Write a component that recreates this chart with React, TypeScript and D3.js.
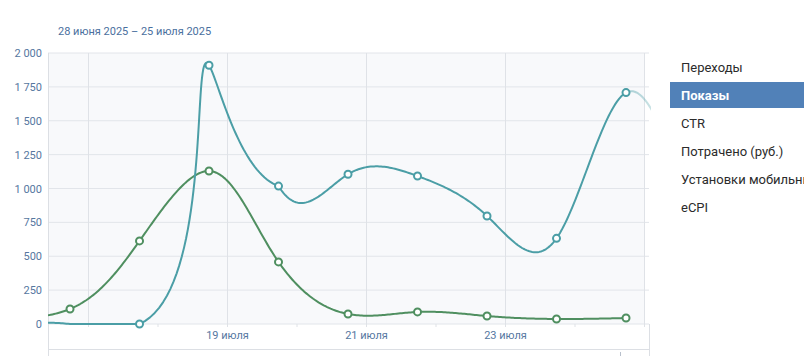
import React from "react";
import * as d3 from "d3";

// ---- data ----
const TITLE = "28 июня 2025 – 25 июля 2025";
const Y_TICKS = [0, 250, 500, 750, 1000, 1250, 1500, 1750, 2000];
const X_GRID_DAYS = [17, 19, 21, 23, 25];
const X_MINOR_DAYS = [18, 20, 22, 24];
const X_LABEL_DAYS = [19, 21, 23];
const X_LABEL_MONTH = "июля";

// point days (July)
const GREEN_DAYS = [15, 16, 17, 18, 19, 20, 21, 22, 23, 24];
const GREEN_VALUES = [30, 111, 613, 1129, 458, 74, 89, 59, 37, 44];
const TEAL_DAYS = [15, 16, 17, 18, 19, 20, 21, 22, 23, 24, 25];
const TEAL_VALUES = [0, 0, 0, 1910, 1018, 1105, 1092, 797, 632, 1708, 700];

const LEGEND_ITEMS = ["Переходы", "Показы", "CTR", "Потрачено (руб.)", "Установки мобильных приложений", "eCPI"];
const LEGEND_SELECTED = 1;

// ---- layout ----
const W = 804, H = 356;
const PL = 48, PR = 649, PT = 53, PB = 324;
const POINT_SHIFT = 0.734;
const CURVE_SPLIT = 4;
const TEAL = "#4b9ea6";
const GREEN = "#4f8f60";
const AXIS_TEXT = "#56779f";
const FONT = "Roboto, 'Open Sans', sans-serif";

const locale = d3.formatLocale({ decimal: ",", thousands: "\u00a0", grouping: [3], currency: ["", ""] });
const fmt = locale.format(",d");

function solveNatural(h: number[], v: number[]): number[] {
  const n = v.length - 1;
  const M = new Array(n + 1).fill(0);
  if (n < 2) return M;
  const a: number[] = [], b: number[] = [], c: number[] = [], r: number[] = [];
  for (let i = 1; i < n; i++) {
    a.push(h[i - 1]);
    b.push(2 * (h[i - 1] + h[i]));
    c.push(h[i]);
    r.push(6 * ((v[i + 1] - v[i]) / h[i] - (v[i] - v[i - 1]) / h[i - 1]));
  }
  const m = b.length;
  for (let i = 1; i < m; i++) {
    const w = a[i] / b[i - 1];
    b[i] -= w * c[i - 1];
    r[i] -= w * r[i - 1];
  }
  const sol = new Array(m).fill(0);
  sol[m - 1] = r[m - 1] / b[m - 1];
  for (let i = m - 2; i >= 0; i--) sol[i] = (r[i] - c[i] * sol[i + 1]) / b[i];
  for (let i = 1; i < n; i++) M[i] = sol[i - 1];
  return M;
}

// natural cubic spline: chord-length knots for the first segments, uniform knots after
function curveHybridNatural(split: number) {
  return function (context: any) {
    let xs: number[] = [], ys: number[] = [];
    const seg = (h: number[], Mx: number[], My: number[], i: number) => {
      const hi = h[i];
      const dx0 = (xs[i + 1] - xs[i]) / hi - (hi * (2 * Mx[i] + Mx[i + 1])) / 6;
      const dy0 = (ys[i + 1] - ys[i]) / hi - (hi * (2 * My[i] + My[i + 1])) / 6;
      const dx1 = (xs[i + 1] - xs[i]) / hi + (hi * (Mx[i] + 2 * Mx[i + 1])) / 6;
      const dy1 = (ys[i + 1] - ys[i]) / hi + (hi * (My[i] + 2 * My[i + 1])) / 6;
      context.bezierCurveTo(
        xs[i] + (hi / 3) * dx0, ys[i] + (hi / 3) * dy0,
        xs[i + 1] - (hi / 3) * dx1, ys[i + 1] - (hi / 3) * dy1,
        xs[i + 1], ys[i + 1]
      );
    };
    return {
      areaStart() {},
      areaEnd() {},
      lineStart() { xs = []; ys = []; },
      point(x: number, y: number) { xs.push(+x); ys.push(+y); },
      lineEnd() {
        const n = xs.length - 1;
        if (n < 0) return;
        context.moveTo(xs[0], ys[0]);
        if (n === 0) return;
        const hc: number[] = [], hu: number[] = [];
        for (let i = 0; i < n; i++) {
          hc.push(Math.max(1e-6, Math.hypot(xs[i + 1] - xs[i], ys[i + 1] - ys[i])));
          hu.push(1);
        }
        const Mxc = solveNatural(hc, xs), Myc = solveNatural(hc, ys);
        const Mxu = solveNatural(hu, xs), Myu = solveNatural(hu, ys);
        for (let i = 0; i < n; i++) {
          if (i < split) seg(hc, Mxc, Myc, i);
          else seg(hu, Mxu, Myu, i);
        }
      },
    };
  };
}

// records the curve drawn by d3 and flattens it, keeping it above the zero line
function clampedPath(gen: d3.Line<[number, number]>, data: [number, number][], maxY: number): string {
  const pts: [number, number][] = [];
  let cx = 0, cy = 0;
  const ctx: any = {
    moveTo(x: number, y: number) { cx = x; cy = y; pts.push([x, Math.min(y, maxY)]); },
    lineTo(x: number, y: number) { cx = x; cy = y; pts.push([x, Math.min(y, maxY)]); },
    bezierCurveTo(x1: number, y1: number, x2: number, y2: number, x: number, y: number) {
      const n = 40;
      for (let i = 1; i <= n; i++) {
        const t = i / n, u = 1 - t;
        const px = u * u * u * cx + 3 * u * u * t * x1 + 3 * u * t * t * x2 + t * t * t * x;
        const py = u * u * u * cy + 3 * u * u * t * y1 + 3 * u * t * t * y2 + t * t * t * y;
        pts.push([px, Math.min(py, maxY)]);
      }
      cx = x; cy = y;
    },
    closePath() {},
  };
  gen.context(ctx)(data);
  gen.context(null);
  return "M" + pts.map((p) => p[0].toFixed(2) + "," + p[1].toFixed(2)).join("L");
}

export default function App() {
  const x = d3.scaleLinear().domain([17, 25]).range([88.5, 644.5]);
  const y = d3.scaleLinear().domain([0, 2000]).range([PB, PT]);

  const line = d3
    .line<[number, number]>()
    .x((d) => x(d[0] + POINT_SHIFT))
    .y((d) => y(d[1]))
    .curve(curveHybridNatural(CURVE_SPLIT) as any);

  const green: [number, number][] = GREEN_DAYS.map((d, i) => [d, GREEN_VALUES[i]]);
  const teal: [number, number][] = TEAL_DAYS.map((d, i) => [d, TEAL_VALUES[i]]);
  const greenMarkers = green.slice(1);
  const tealMarkers = teal.slice(2, 10);

  const fadeStart = x(24 + POINT_SHIFT);

  return (
    <svg width={W} height={H} style={{ display: "block", position: "absolute", left: 0, top: 0 }}>
      <defs>
        <clipPath id="plotclip">
          <rect x={PL} y={30} width={PR - PL + 2} height={PB - 30 + 2} />
        </clipPath>
        <linearGradient id="tealgrad" gradientUnits="userSpaceOnUse" x1={PL} x2={PR + 2} y1={0} y2={0}>
          <stop offset={(fadeStart - PL) / (PR + 2 - PL)} stopColor={TEAL} stopOpacity={1} />
          <stop offset={(fadeStart + 2 - PL) / (PR + 2 - PL)} stopColor={TEAL} stopOpacity={0.45} />
          <stop offset={1} stopColor={TEAL} stopOpacity={0.3} />
        </linearGradient>
      </defs>
      <rect x={0} y={0} width={W} height={H} fill="#ffffff" />
      <text x={58} y={35} fontFamily={FONT} fontSize={11} fill="#4a6f9e">{TITLE}</text>

      <rect x={PL} y={PT} width={x(25) - PL} height={PB - PT} fill="#f8f9fb" />

      {Y_TICKS.map((t) => (
        <line key={"h" + t} x1={PL} x2={PR} y1={y(t)} y2={y(t)} stroke="#e2e5ea" strokeWidth={1} />
      ))}
      {X_GRID_DAYS.map((d) => (
        <line key={"v" + d} x1={x(d)} x2={x(d)} y1={PT} y2={PB + 3} stroke="#dfe2e7" strokeWidth={1} />
      ))}
      {X_MINOR_DAYS.map((d) => (
        <line key={"m" + d} x1={x(d)} x2={x(d)} y1={PB} y2={PB + 3} stroke="#dfe2e7" strokeWidth={1} />
      ))}
      <line x1={PL + 0.5} x2={PL + 0.5} y1={PT} y2={H} stroke="#dcdfe4" />
      <line x1={PL} x2={PR} y1={349.5} y2={349.5} stroke="#dcdfe4" />
      <line x1={PR + 0.5} x2={PR + 0.5} y1={PB} y2={H} stroke="#dcdfe4" />
      <line x1={620.5} x2={620.5} y1={352} y2={356} stroke="#b8c0cc" />

      {Y_TICKS.map((t) => (
        <text key={"yl" + t} x={42} y={y(t) + 4} textAnchor="end" fontFamily={FONT} fontSize={11} fill={AXIS_TEXT}>
          {fmt(t)}
        </text>
      ))}
      {X_LABEL_DAYS.map((d) => (
        <text key={"xl" + d} x={x(d)} y={339} textAnchor="middle" fontFamily={FONT} fontSize={11} fill={AXIS_TEXT}>
          {d + " " + X_LABEL_MONTH}
        </text>
      ))}

      <g clipPath="url(#plotclip)">
        <path d={clampedPath(line, green, PB)} fill="none" stroke={GREEN} strokeWidth={2} strokeLinejoin="round" />
        <path d={clampedPath(line, teal, PB)} fill="none" stroke="url(#tealgrad)" strokeWidth={2} strokeLinejoin="round" />
      </g>
      {greenMarkers.map((p, i) => (
        <circle key={"gm" + i} cx={x(p[0] + POINT_SHIFT)} cy={y(p[1])} r={3.5} fill="#ffffff" stroke={GREEN} strokeWidth={2} />
      ))}
      {tealMarkers.map((p, i) => (
        <circle key={"tm" + i} cx={x(p[0] + POINT_SHIFT)} cy={y(p[1])} r={3.5} fill="#ffffff" stroke={TEAL} strokeWidth={2} />
      ))}

      {LEGEND_ITEMS.map((name, i) => {
        const cy = 67 + i * 28;
        const sel = i === LEGEND_SELECTED;
        return (
          <g key={"lg" + i}>
            {sel && <rect x={670} y={cy - 13} width={W - 670} height={26} fill="#5181b8" />}
            <text x={681} y={cy + 4.5} fontFamily={FONT} fontSize={13} fontWeight={sel ? 700 : 400} fill={sel ? "#ffffff" : "#2b2b2b"}>
              {name}
            </text>
          </g>
        );
      })}
    </svg>
  );
}
